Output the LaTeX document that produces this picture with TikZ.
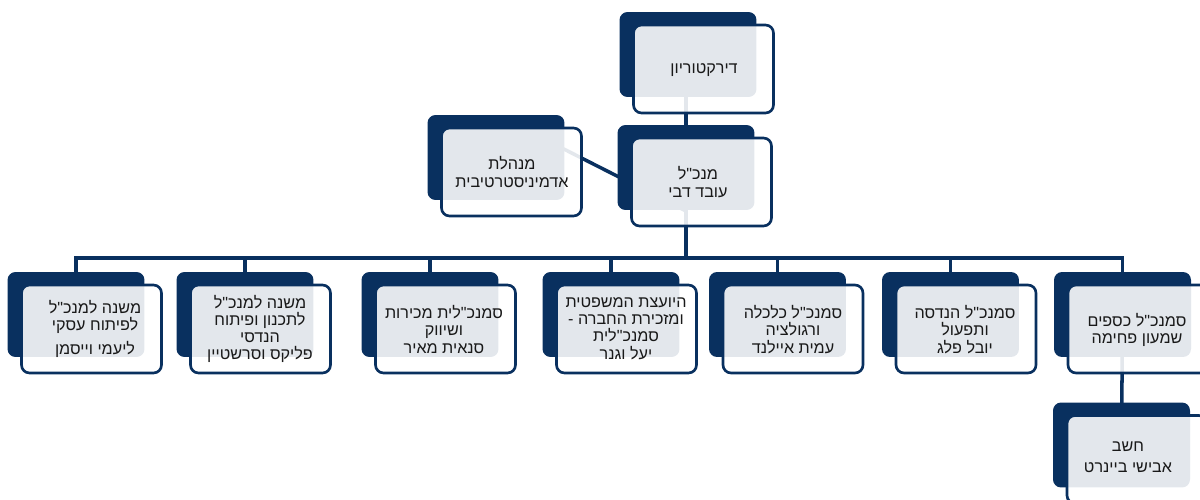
\documentclass[tikz,border=0pt]{standalone}
\usepackage{fontspec}
\newfontfamily\hebfont[Script=Hebrew]{Liberation Sans}
\TeXXeTstate=1
\newcommand{\heb}[1]{\beginR #1\endR}
\usetikzlibrary{backgrounds}
\definecolor{navy}{RGB}{9,48,95}
\tikzset{
  darkbox/.style={fill=navy, rounded corners=0.16cm, minimum width=2.74cm, minimum height=1.7cm, inner sep=0pt},
  litebox/.style={draw=navy, line width=1.5pt, fill=white, fill opacity=0.885, rounded corners=0.16cm, minimum width=2.8cm, minimum height=1.76cm, inner sep=0pt},
  boxtext/.style={font=\hebfont\fontsize{9.2}{9.8}\selectfont, align=center, text=black!90, inner sep=0pt},
  link/.style={draw=navy, line width=2pt}
}
\begin{document}
\begin{tikzpicture}[x=0.02cm, y=-0.02cm]
    \useasboundingbox (0,0) rectangle (1200,500);

    % back plates
    \node[darkbox] (dir) at (688,54.5) {};
    \node[darkbox] (mgr) at (686,167.5) {};
    \node[darkbox] (adm) at (496,157.5) {};
    \node[darkbox] (dpA) at (76,314.5) {};
    \node[darkbox] (dpB) at (245,314.5) {};
    \node[darkbox] (dpC) at (430,314.5) {};
    \node[darkbox] (dpD) at (611,314.5) {};
    \node[darkbox] (dpE) at (777.5,314.5) {};
    \node[darkbox] (dpF) at (950.5,314.5) {};
    \node[darkbox] (dpG) at (1122.5,314.5) {};
    \node[darkbox] (acc) at (1121.5,445) {};

    % connectors
    \coordinate (bus) at (686,258);
    \coordinate (hook) at (686,211);
    \begin{pgfonlayer}{background}
    \draw[link] (mgr.center) -- (mgr |- dir.center);
    \draw[link] (mgr.center) -- (bus);
    \draw[link, shorten <=4pt] (adm.north) -- (hook);
    \draw[link] (dpA.center) |- (bus) -| (dpG.center);
    \foreach \n in {dpB,dpC,dpD,dpE,dpF}
        \draw[link] (\n.center) -- (\n |- bus);
    \draw[link] (dpG.center) -- (acc.center);
    \end{pgfonlayer}

    % front frames
    \node[litebox] (dirF) at ([shift={(15.5,14.5)}]dir) {};
    \node[litebox] (mgrF) at ([shift={(15.5,14.5)}]mgr) {};
    \node[litebox] (admF) at ([shift={(15.5,14.5)}]adm) {};
    \node[litebox] (dpAF) at ([shift={(15.5,14.5)}]dpA) {};
    \node[litebox] (dpBF) at ([shift={(15.5,14.5)}]dpB) {};
    \node[litebox] (dpCF) at ([shift={(15.5,14.5)}]dpC) {};
    \node[litebox] (dpDF) at ([shift={(15.5,14.5)}]dpD) {};
    \node[litebox] (dpEF) at ([shift={(15.5,14.5)}]dpE) {};
    \node[litebox] (dpFF) at ([shift={(15.5,14.5)}]dpF) {};
    \node[litebox] (dpGF) at ([shift={(15.5,14.5)}]dpG) {};
    \node[litebox] (accF) at ([shift={(15.5,14.5)}]acc) {};

    % texts
    \node[boxtext] (dirT) at (704,70) {\heb{דירקטוריון}};
    \node[boxtext] (mgrT) at (698,182) {\heb{מנכ"ל}\\\heb{עובד דבי}};
    \node[boxtext] (admT) at (512,172) {\heb{מנהלת}\\\heb{אדמיניסטרטיבית}};
    \node[boxtext] (dpAT) at (95,329) {\heb{משנה למנכ"ל}\\\heb{לפיתוח עסקי}\\[4pt]\heb{ליעמי וייסמן}};
    \node[boxtext] (dpBT) at (260,329) {\heb{משנה למנכ"ל}\\\heb{לתכנון ופיתוח}\\\heb{הנדסי}\\\heb{פליקס וסרשטיין}};
    \node[boxtext] (dpCT) at (444,329.5) {\heb{סמנכ"לית מכירות}\\\heb{ושיווק}\\\heb{סנאית מאיר}};
    \node[boxtext] (dpDT) at (626,328.5) {\heb{היועצת המשפטית}\\\heb{ומזכירת החברה -}\\\heb{סמנכ"לית}\\\heb{יעל וגנר}};
    \node[boxtext] (dpET) at (793,329.5) {\heb{סמנכ"ל כלכלה}\\\heb{ורגולציה}\\\heb{עמית איילנד}};
    \node[boxtext] (dpFT) at (965,329.5) {\heb{סמנכ"ל הנדסה}\\\heb{ותפעול}\\\heb{יובל פלג}};
    \node[boxtext] (dpGT) at (1137,330) {\heb{סמנכ"ל כספים}\\\heb{שמעון פחימה}};
    \node[boxtext] (accT) at (1128,457.5) {\heb{חשב}\\[2pt]\heb{אבישי ביינרט}};

\end{tikzpicture}
\end{document}
